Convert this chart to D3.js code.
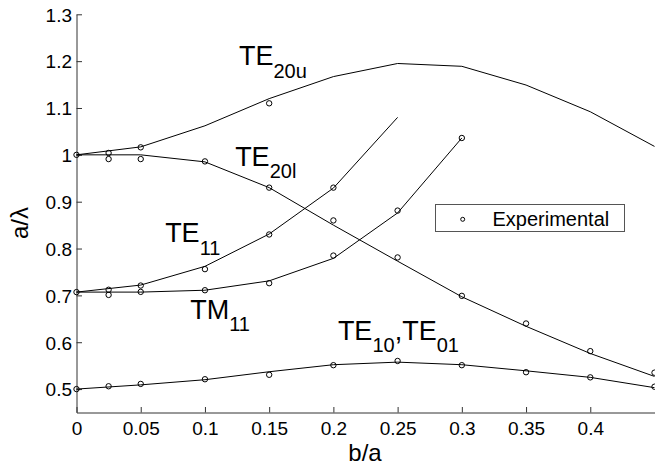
<!DOCTYPE html>
<html>
<head>
<meta charset="utf-8">
<script src="https://cdn.jsdelivr.net/npm/d3@7"></script>
<style>
  body { margin: 0; background: #fff; }
  svg, svg text { font-family: "Liberation Sans", Arial, sans-serif; }
  svg { display: block; }
</style>
</head>
<body>
<svg id="svg"></svg>
<script>

var width = 655;
var height = 466;

// theory curves, all on the same b/a grid
var xTheory = [0, 0.05, 0.1, 0.15, 0.2, 0.25, 0.3, 0.35, 0.4, 0.45];
var te20uLine = [1.0, 1.017, 1.062, 1.12, 1.167, 1.195, 1.189, 1.149, 1.092, 1.018];
var te20lLine = [1.0, 1.0, 0.985, 0.93, 0.85, 0.773, 0.697, 0.634, 0.576, 0.527];
var te11Line = [0.707, 0.722, 0.762, 0.831, 0.929, 1.08];
var tm11Line = [0.707, 0.707, 0.711, 0.731, 0.779, 0.876, 1.036];
var te10Line = [0.5, 0.509, 0.52, 0.537, 0.552, 0.5575, 0.552, 0.539, 0.525, 0.503];

// measured points
var te20uExpX = [0, 0.025, 0.05, 0.15];
var te20uExpY = [1.0, 1.004, 1.016, 1.11];
var te20lExpX = [0.025, 0.05, 0.1, 0.15, 0.2, 0.25, 0.3, 0.35, 0.4, 0.45];
var te20lExpY = [0.991, 0.991, 0.986, 0.93, 0.86, 0.781, 0.699, 0.64, 0.581, 0.535];
var te11ExpX = [0, 0.025, 0.05, 0.1, 0.15, 0.2];
var te11ExpY = [0.707, 0.712, 0.721, 0.756, 0.83, 0.93];
var tm11ExpX = [0.025, 0.05, 0.1, 0.15, 0.2, 0.25, 0.3];
var tm11ExpY = [0.701, 0.7075, 0.711, 0.726, 0.785, 0.881, 1.036];
var te10ExpX = [0, 0.025, 0.05, 0.1, 0.15, 0.2, 0.25, 0.3, 0.35, 0.4, 0.45];
var te10ExpY = [0.5, 0.506, 0.511, 0.521, 0.5305, 0.551, 0.56, 0.551, 0.536, 0.525, 0.505];

var xTicks = [0, 0.05, 0.1, 0.15, 0.2, 0.25, 0.3, 0.35, 0.4];
var yTicks = [0.5, 0.6, 0.7, 0.8, 0.9, 1.0, 1.1, 1.2, 1.3];

// mode labels: main text, subscripts, anchor in data units
var modeLabels = [
    { parts: ["TE", "20u"], x: 0.1265, y: 1.191 },
    { parts: ["TE", "20l"], x: 0.1235, y: 0.9766 },
    { parts: ["TE", "11"], x: 0.069, y: 0.8133 },
    { parts: ["TM", "11"], x: 0.0885, y: 0.6498 },
    { parts: ["TE", "10", ",TE", "01"], x: 0.2035, y: 0.605 }
];

var svg, x, y;

function initSVG(){
    svg = d3.select("#svg")
        .attr("width", width)
        .attr("height", height);

    x = d3.scaleLinear().domain([0, 0.45]).range([76.5, 654.5]);
    y = d3.scaleLinear().domain([0.45, 1.3]).range([412.5, 14.3]);
}

function drawAxes(){
    var fmt = function(d){ return String(+d.toFixed(2)); };

    // MATLAB style: ticks pointing inward, no box
    var xAxis = svg.append("g")
        .attr("transform", "translate(0," + y(0.45) + ")")
        .call(d3.axisBottom(x).tickValues(xTicks).tickSizeInner(-5.5).tickSizeOuter(0).tickFormat(fmt));
    xAxis.selectAll("text").attr("y", 22).attr("dy", 0).attr("font-size", 19).attr("fill", "#000");

    var yAxis = svg.append("g")
        .attr("transform", "translate(" + x(0) + ",0)")
        .call(d3.axisLeft(y).tickValues(yTicks).tickSizeInner(-5.5).tickSizeOuter(0).tickFormat(fmt));
    yAxis.selectAll("text").attr("x", -4.5).attr("dy", "0.36em").attr("font-size", 19).attr("fill", "#000");

    svg.selectAll("g").attr("font-family", null);
    svg.selectAll(".domain, .tick line").attr("stroke", "#333");

    svg.append("text")
        .attr("x", 365).attr("y", 461)
        .attr("text-anchor", "middle")
        .attr("font-size", 24)
        .text("b/a");

    svg.append("text")
        .attr("transform", "translate(28,223) rotate(-90)")
        .attr("text-anchor", "middle")
        .attr("font-size", 24)
        .text("a/λ");
}

function drawCurves(){
    var line = d3.line()
        .x(function(d){ return x(d[0]); })
        .y(function(d){ return y(d[1]); });

    var curves = [te20uLine, te20lLine, te11Line, tm11Line, te10Line];
    curves.forEach(function(vals){
        var pts = vals.map(function(v, i){ return [xTheory[i], v]; });
        svg.append("path")
            .attr("d", line(pts))
            .attr("fill", "none")
            .attr("stroke", "#000")
            .attr("stroke-width", 1);
    });

    var exps = [
        [te20uExpX, te20uExpY],
        [te20lExpX, te20lExpY],
        [te11ExpX, te11ExpY],
        [tm11ExpX, tm11ExpY],
        [te10ExpX, te10ExpY]
    ];
    exps.forEach(function(e){
        svg.append("g").selectAll("circle")
            .data(d3.zip(e[0], e[1]))
            .join("circle")
            .attr("cx", function(d){ return x(d[0]); })
            .attr("cy", function(d){ return y(d[1]); })
            .attr("r", 2.7)
            .attr("fill", "none")
            .attr("stroke", "#000")
            .attr("stroke-width", 1);
    });
}

function drawLabels(){
    modeLabels.forEach(function(l){
        var t = svg.append("text")
            .attr("x", x(l.x))
            .attr("y", y(l.y))
            .attr("font-size", 27);
        l.parts.forEach(function(p, i){
            var sub = i % 2 == 1;
            t.append("tspan")
                .attr("font-size", sub ? 20 : 27)
                .attr("dy", i == 0 ? 0 : (sub ? 12.5 : -12.5))
                .text(p);
        });
    });
}

function drawLegend(){
    var g = svg.append("g");
    g.append("rect")
        .attr("x", 435.5).attr("y", 204.5)
        .attr("width", 189).attr("height", 27)
        .attr("fill", "#fff")
        .attr("stroke", "#555");
    g.append("circle")
        .attr("cx", 462.7).attr("cy", 219.3)
        .attr("r", 2)
        .attr("fill", "none")
        .attr("stroke", "#000");
    g.append("text")
        .attr("x", 492.5).attr("y", 225.5)
        .attr("font-size", 20)
        .text("Experimental");
}

function init(){
    initSVG();
    drawAxes();
    drawCurves();
    drawLabels();
    drawLegend();
}

document.addEventListener("DOMContentLoaded", function(event) {
    init();
});

</script>
</body>
</html>
